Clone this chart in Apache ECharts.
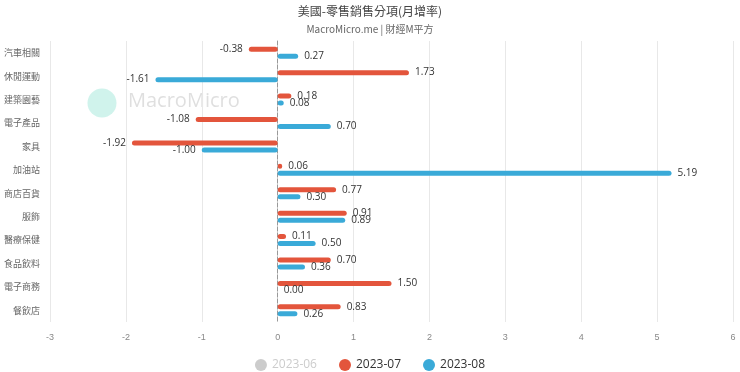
<!DOCTYPE html>
<html><head><meta charset="utf-8">
<script src="https://cdn.jsdelivr.net/npm/echarts@6/dist/echarts.min.js"></script>
<style>html,body{margin:0;padding:0;background:#fff}#c{width:740px;height:372px}</style>
</head><body><div id="c"></div>
<script>
const categories = ['汽車相關','休閒運動','建築園藝','電子產品','家具','加油站','商店百貨','服飾','醫療保健','食品飲料','電子商務','餐飲店'];
const s2023_06 = [0.30, -0.20, -1.20, 0.10, 0.10, -1.40, 0.20, -0.10, 0.30, 0.10, 1.90, 0.10];
const s2023_07 = [-0.38, 1.73, 0.18, -1.08, -1.92, 0.06, 0.77, 0.91, 0.11, 0.70, 1.50, 0.83];
const s2023_08 = [0.27, -1.61, 0.08, 0.70, -1.00, 5.19, 0.30, 0.89, 0.50, 0.36, 0.00, 0.26];
const xTicks = [-3, 6, 1];

const chart = echarts.init(document.getElementById('c'));
function mk(name, data, color) {
  return {
    name, type: 'bar', barWidth: 5, barGap: '40%',
    itemStyle: { color, borderRadius: 3 },
    label: {
      show: true, formatter: p => p.value.toFixed(2), fontSize: 10, color: '#333',
      fontFamily: 'Open Sans', distance: 6
    },
    data: data.map(v => ({ value: v, label: { position: v < 0 ? 'left' : 'right' } }))
  };
}
const series = [mk('2023-06', s2023_06, '#9e9e9e'), mk('2023-07', s2023_07, '#e3553c'), mk('2023-08', s2023_08, '#3aaad8')];
chart.setOption({
  animation: false,
  title: {
    text: '美國-零售銷售分項(月增率)', subtext: 'MacroMicro.me | 財經M平方', left: 'center', top: 0,
    textStyle: { fontSize: 12, fontWeight: 'normal', color: '#444', fontFamily: 'Noto Sans CJK TC' },
    subtextStyle: { fontSize: 10, color: '#666', fontFamily: 'Noto Sans CJK TC' }, itemGap: 7
  },
  legend: {
    top: 354, icon: 'circle', itemWidth: 12, itemHeight: 12, itemGap: 22,
    textStyle: { fontSize: 12, color: '#333', fontFamily: 'Open Sans' },
    selected: { '2023-06': false }, inactiveColor: '#ccc',
    data: ['2023-06', '2023-07', '2023-08']
  },
  grid: { left: 50, right: 7, top: 41, bottom: 50, outerBoundsMode: 'none', containLabel: false },
  xAxis: {
    type: 'value', min: xTicks[0], max: xTicks[1], interval: xTicks[2],
    axisLabel: { fontSize: 9, color: '#888', margin: 11 },
    axisLine: { show: false }, axisTick: { show: false },
    splitLine: { lineStyle: { color: '#e8e8e8' } }
  },
  yAxis: {
    type: 'category', data: categories, inverse: true,
    axisLabel: { fontSize: 9, color: '#666', margin: 10, fontFamily: 'Noto Sans CJK TC' },
    axisTick: { show: false },
    axisLine: { lineStyle: { color: '#999', type: 'dashed', width: 1 } }
  },
  graphic: [
    { type: 'circle', shape: { cx: 102, cy: 103, r: 14.5 }, style: { fill: 'rgba(120,220,200,0.35)' }, z: 0 },
    { type: 'text', left: 128, top: 91, style: { text: 'MacroMicro', fontSize: 20, fill: 'rgba(150,150,150,0.3)', fontFamily: 'Open Sans' }, z: 0 }
  ],
  series
});
</script></body></html>
